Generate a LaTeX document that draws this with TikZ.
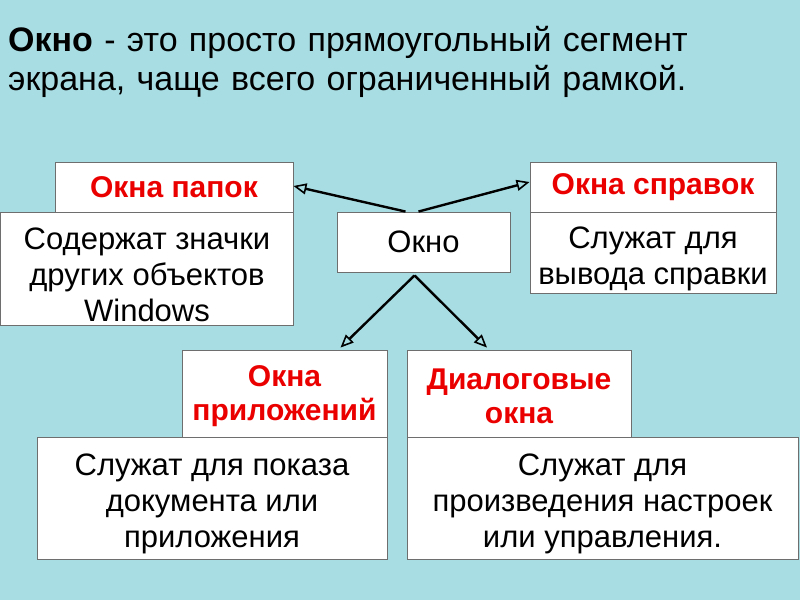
\documentclass[tikz,border=0pt]{standalone}
\usepackage{fontspec}
\setmainfont{Liberation Sans}
\usetikzlibrary{arrows.meta}
\definecolor{bgwater}{RGB}{168,221,227}
\definecolor{boxline}{RGB}{110,110,110}
\definecolor{headred}{RGB}{235,0,0}
\newcommand{\lowerfirst}{\rule{0pt}{34pt}}
\tikzset{
  box/.style={draw=boxline, line width=0.9pt, fill=white, inner sep=0pt, align=center},
  headbox/.style={box, font=\fontsize{30}{34}\selectfont\bfseries, text=headred},
  bodybox/.style={box, font=\fontsize{31}{36}\selectfont},
  conn/.style={line width=2.4pt, -{Triangle[open, length=13pt, width=11pt, line width=1.6pt]}},
}
\begin{document}
\begin{tikzpicture}[x=1pt, y=-1pt]
\fill[bgwater] (0,0) rectangle (800,600);
\useasboundingbox (0,0) rectangle (800,600);
% title
\node[anchor=north west, inner sep=0pt, align=left, text width=790pt,
      font=\fontsize{34}{39}\selectfont] (title) at (8,26)
  {\textbf{Окно} - это просто прямоугольный сегмент\\экрана, чаще всего ограниченный рамкой.};
% boxes
\node[bodybox, minimum width=293pt, minimum height=113pt] (bp) at (147,268.5)
  {\lowerfirst Содержат значки\\других объектов\\Windows};
\node[headbox, minimum width=238pt, minimum height=50pt] (hp) at (174,187) {Окна папок};
\node[bodybox, minimum width=173pt, minimum height=60pt] (okno) at (423.5,242) {Окно};
\node[bodybox, minimum width=246pt, minimum height=81pt] (bs) at (653,252.5)
  {\lowerfirst Служат для\\вывода справки};
\node[headbox, minimum width=246pt, minimum height=50pt] (hs) at (653,187) {Окна справок};
\node[bodybox, minimum width=350pt, minimum height=122pt] (ba) at (212,498)
  {\lowerfirst Служат для показа\\документа или\\приложения};
\node[headbox, minimum width=205pt, minimum height=87pt] (ha) at (284.5,393.5)
  {\rule{0pt}{27pt}Окна\\приложений};
\node[bodybox, minimum width=391pt, minimum height=122pt] (bd) at (602.5,498)
  {\lowerfirst Служат для\\произведения настроек\\или управления.};
\node[headbox, minimum width=224pt, minimum height=87pt] (hd) at (519,393.5)
  {\rule{0pt}{27pt}Диалоговые\\окна};
% connectors
\draw[conn] ([xshift=-18pt]okno.north) -- ([yshift=1pt]hp.east);
\draw[conn] ([xshift=-5pt]okno.north) -- ([yshift=5pt]hs.west);
\draw[conn] ([xshift=-9pt,yshift=-3pt]okno.south) -- ([xshift=56pt,yshift=2pt]ha.north);
\draw[conn] ([xshift=-9pt,yshift=-3pt]okno.south) -- ([xshift=-32pt,yshift=2pt]hd.north);
\end{tikzpicture}
\end{document}
